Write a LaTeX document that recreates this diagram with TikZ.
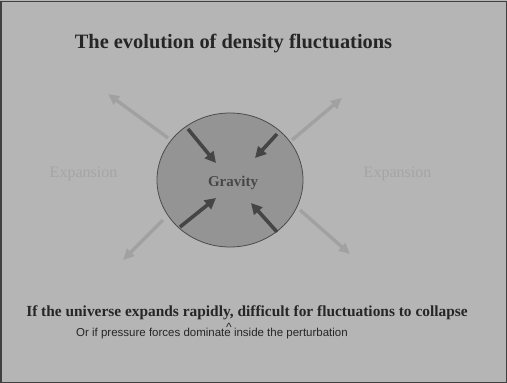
\documentclass[tikz,border=0pt]{standalone}
\usepackage{fontspec}
\setmainfont{Liberation Serif}
\newfontfamily\arialfont{Liberation Sans}
\usetikzlibrary{arrows.meta, positioning, shapes.geometric}

\definecolor{slidebg}{gray}{0.71}
\definecolor{blobfill}{gray}{0.58}
\definecolor{pullcol}{gray}{0.27}
\definecolor{pushcol}{gray}{0.63}
\definecolor{titlecol}{gray}{0.15}

\begin{document}
\begin{tikzpicture}[
    x=1pt,
    y=-1pt,
    >=Stealth,
    pull/.style={line width=3.6pt, pullcol, -{Triangle[length=11pt,width=11pt]}},
    push/.style={line width=3.4pt, pushcol, -{Triangle[length=11pt,width=10pt]}},
    faint/.style={pushcol!95!white, font=\fontsize{16}{18}\selectfont, anchor=base}
]

\useasboundingbox (0,0) rectangle (507,383);
\fill[slidebg] (0,0) rectangle (507,383);
\draw[black!75, line width=1.5pt] (0.75,1.5) rectangle (506.25,382.25);

% =========================
% Title
% =========================
\node[titlecol, anchor=base, font=\fontsize{20.4}{22}\selectfont\bfseries]
    (title) at (233.5,48) {The evolution of density fluctuations};

% =========================
% Overdense region
% =========================
\node[draw=black!70, fill=blobfill, ellipse, minimum width=146pt,
      minimum height=134pt, inner sep=0pt, line width=0.8pt]
    (blob) at (230,180) {};
\node[black!72, anchor=base, font=\fontsize{15}{17}\selectfont\bfseries]
    (gravity) at (233,186) {Gravity};

% Gravity arrows
\coordinate (gTLa) at (188,129);  \coordinate (gTLb) at (216,163);
\coordinate (gTRa) at (277,134);  \coordinate (gTRb) at (255,158);
\coordinate (gBLa) at (180,227);  \coordinate (gBLb) at (216,198);
\coordinate (gBRa) at (277,232);  \coordinate (gBRb) at (251,203);

\draw[pull] (gTLa) -- (gTLb);
\draw[pull] (gTRa) -- (gTRb);
\draw[pull] (gBLa) -- (gBLb);
\draw[pull] (gBRa) -- (gBRb);

% =========================
% Expansion
% =========================
\coordinate (eTLa) at (168,138);  \coordinate (eTLb) at (108,94);
\coordinate (eTRa) at (292,140);  \coordinate (eTRb) at (342,98);
\coordinate (eBLa) at (163,220);  \coordinate (eBLb) at (123,260);
\coordinate (eBRa) at (300,210);  \coordinate (eBRb) at (350,254);

\draw[push] (eTLa) -- (eTLb);
\draw[push] (eTRa) -- (eTRb);
\draw[push] (eBLa) -- (eBLb);
\draw[push] (eBRa) -- (eBRb);

\node[faint] (expL) at (83.5,177) {Expansion};
\node[faint] (expR) at (397.5,177) {Expansion};

% =========================
% Caption
% =========================
\node[titlecol, anchor=base, font=\fontsize{15.4}{17}\selectfont\bfseries]
    (lineA) at (247,316) {If the universe expands rapidly, difficult for fluctuations to collapse};
\node[titlecol, anchor=base, font=\arialfont\fontsize{12}{12}\selectfont, inner sep=0pt]
    (caret) at (229,331) {\textasciicircum};
\node[black!85, anchor=base, font=\arialfont\fontsize{11.5}{13}\selectfont]
    (lineB) at (212,336) {Or if pressure forces dominate inside the perturbation};

\end{tikzpicture}
\end{document}
